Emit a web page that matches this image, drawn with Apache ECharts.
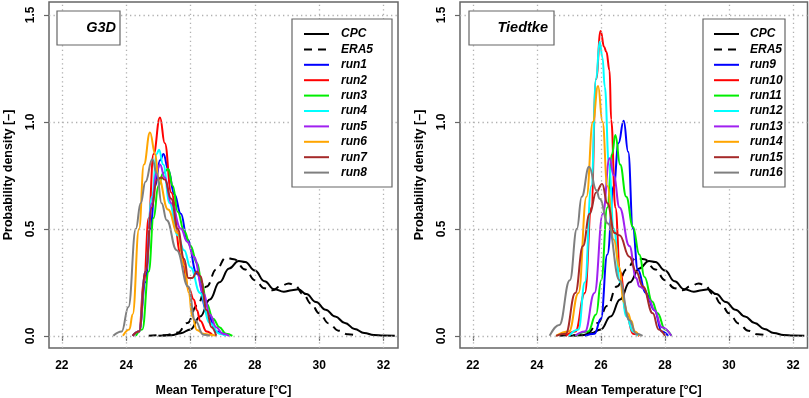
<!DOCTYPE html>
<html>
<head>
<meta charset="utf-8">
<script src="https://cdn.jsdelivr.net/npm/echarts@6/dist/echarts.min.js"></script>
<style>
  html, body { margin: 0; padding: 0; background: #fff; }
  #chart { width: 809px; height: 398px; }
</style>
</head>
<body>
<div id="chart"></div>
<script>
// tick values
const xTicks = [22, 24, 26, 28, 30, 32];
const yTicks = [0, 0.5, 1.0, 1.5];

// observations (same in both panels)
const cpc = [[25.0,0],[25.4,0.003],[25.7,0.012],[26.0,0.03],[26.3,0.09],[26.6,0.17],[26.9,0.25],[27.2,0.315],[27.5,0.35],[27.7,0.345],[28.0,0.305],[28.3,0.255],[28.6,0.218],[28.9,0.206],[29.15,0.213],[29.35,0.217],[29.6,0.195],[29.9,0.158],[30.2,0.122],[30.5,0.09],[30.8,0.06],[31.1,0.032],[31.4,0.013],[31.7,0.004],[32.0,0.001],[32.35,0]];
const era5 = [[24.7,0],[25.2,0.003],[25.6,0.015],[25.9,0.06],[26.2,0.14],[26.5,0.23],[26.8,0.31],[27.1,0.365],[27.35,0.358],[27.7,0.31],[28.0,0.26],[28.3,0.222],[28.55,0.213],[28.8,0.232],[29.05,0.245],[29.25,0.235],[29.5,0.195],[29.75,0.15],[30.0,0.105],[30.3,0.058],[30.6,0.024],[30.9,0.007],[31.2,0.001]];

// G3D runs
const run1 = [[24.2,0],[24.4,0.02],[24.6,0.25],[24.75,0.5],[24.9,0.7],[25.05,0.82],[25.16,0.85],[25.3,0.78],[25.5,0.66],[25.7,0.57],[25.9,0.45],[26.2,0.29],[26.5,0.12],[26.8,0.02],[27.1,0]];
const run2 = [[24.2,0],[24.4,0.02],[24.55,0.25],[24.7,0.55],[24.85,0.85],[25.05,1.02],[25.2,0.9],[25.4,0.67],[25.7,0.38],[25.95,0.22],[26.1,0.17],[26.2,0.12],[26.3,0.07],[26.5,0.02],[26.7,0]];
const run3 = [[24.3,0],[24.5,0.03],[24.7,0.3],[24.85,0.55],[25.0,0.7],[25.15,0.76],[25.3,0.78],[25.45,0.7],[25.6,0.58],[25.8,0.49],[26.0,0.42],[26.2,0.34],[26.35,0.25],[26.5,0.15],[26.7,0.08],[26.9,0.04],[27.1,0.01],[27.3,0]];
const run4 = [[24.2,0],[24.4,0.02],[24.6,0.3],[24.8,0.65],[24.95,0.85],[25.02,0.87],[25.15,0.8],[25.35,0.62],[25.6,0.47],[25.8,0.4],[26.0,0.32],[26.3,0.2],[26.6,0.06],[26.9,0.01],[27.1,0]];
const run5 = [[24.2,0],[24.4,0.02],[24.6,0.3],[24.8,0.62],[24.95,0.77],[25.05,0.8],[25.2,0.74],[25.4,0.62],[25.7,0.5],[25.9,0.44],[26.1,0.37],[26.4,0.2],[26.6,0.1],[26.8,0.04],[27.0,0.01],[27.2,0]];
const run6 = [[23.9,0],[24.1,0.03],[24.2,0.1],[24.4,0.5],[24.55,0.8],[24.74,0.95],[24.9,0.85],[25.0,0.74],[25.3,0.59],[25.6,0.48],[25.8,0.33],[25.95,0.2],[26.05,0.09],[26.2,0.027],[26.4,0.01],[26.6,0.005],[26.8,0]];
const run7 = [[24.2,0],[24.4,0.02],[24.6,0.3],[24.8,0.6],[24.95,0.73],[25.1,0.74],[25.2,0.73],[25.4,0.64],[25.6,0.5],[25.8,0.36],[25.93,0.27],[26.05,0.27],[26.2,0.3],[26.3,0.28],[26.5,0.12],[26.65,0.04],[26.8,0]];
const run8 = [[23.6,0],[23.86,0.02],[24.07,0.135],[24.3,0.5],[24.45,0.62],[24.6,0.72],[24.81,0.825],[24.95,0.76],[25.1,0.62],[25.26,0.54],[25.57,0.4],[25.93,0.23],[26.14,0.073],[26.4,0.005],[26.6,0]];

// Tiedtke runs
const run9 = [[25.5,0],[25.8,0.01],[26.0,0.08],[26.2,0.38],[26.4,0.7],[26.55,0.9],[26.71,1.005],[26.85,0.86],[27.0,0.5],[27.15,0.31],[27.4,0.2],[27.67,0.12],[27.9,0.02],[28.1,0]];
const run10 = [[24.9,0],[25.2,0.02],[25.5,0.2],[25.7,0.6],[25.85,1.2],[25.99,1.425],[26.1,1.35],[26.17,1.327],[26.27,1.24],[26.32,1.01],[26.45,0.6],[26.6,0.3],[26.8,0.1],[27.0,0.01],[27.2,0]];
const run11 = [[25.2,0],[25.6,0.02],[25.85,0.1],[26.01,0.26],[26.2,0.6],[26.35,0.85],[26.45,0.938],[26.6,0.8],[26.79,0.65],[27.0,0.51],[27.2,0.38],[27.36,0.275],[27.6,0.16],[27.77,0.105],[28.0,0.03],[28.2,0]];
const run12 = [[25.0,0],[25.3,0.03],[25.5,0.25],[25.7,0.7],[25.85,1.2],[25.96,1.374],[26.05,1.3],[26.12,1.164],[26.25,0.8],[26.4,0.5],[26.6,0.25],[26.8,0.09],[27.0,0.02],[27.15,0]];
const run13 = [[25.2,0],[25.5,0.02],[25.8,0.2],[26.06,0.57],[26.27,0.83],[26.4,0.75],[26.58,0.6],[26.89,0.42],[27.1,0.27],[27.2,0.23],[27.35,0.22],[27.5,0.17],[27.67,0.12],[27.9,0.04],[28.2,0]];
const run14 = [[24.6,0],[25.0,0.02],[25.3,0.2],[25.55,0.65],[25.75,1.0],[25.91,1.167],[26.05,1.0],[26.2,0.7],[26.4,0.45],[26.58,0.32],[26.7,0.16],[26.84,0.105],[26.95,0.07],[27.05,0.02],[27.2,0]];
const run15 = [[24.6,0],[24.9,0.01],[25.2,0.2],[25.44,0.42],[25.65,0.57],[25.85,0.67],[26.04,0.71],[26.2,0.62],[26.43,0.48],[26.58,0.47],[26.89,0.37],[27.1,0.3],[27.31,0.23],[27.62,0.105],[27.8,0.03],[28.0,0]];
const run16 = [[24.4,0],[24.7,0.05],[25.03,0.26],[25.25,0.5],[25.4,0.65],[25.63,0.79],[25.86,0.68],[25.96,0.64],[26.22,0.525],[26.58,0.26],[26.89,0.073],[27.1,0.01],[27.3,0]];

const runColors = ['#0000ff', '#ff0000', '#00ee00', '#00ffff', '#a020f0', '#ffa500', '#a52a2a', '#7f7f7f'];
const leftRuns = [run1, run2, run3, run4, run5, run6, run7, run8];
const rightRuns = [run9, run10, run11, run12, run13, run14, run15, run16];

const font = "'Liberation Sans', Arial, sans-serif";
const frame = '#666';

let chart = echarts.init(document.getElementById('chart'));

function curve(name, data, color, grid, dashed) {
    return {
        name: name,
        type: 'line',
        xAxisIndex: grid,
        yAxisIndex: grid,
        data: data,
        smooth: 0.45,
        smoothMonotone: 'x',
        symbol: 'none',
        z: 3,
        lineStyle: { color: color, width: 2, type: dashed ? [8, 6] : 'solid' },
        itemStyle: { color: color }
    };
}

// dotted grid lines drawn as markLines on an empty series
function gridLines(grid) {
    return {
        type: 'line',
        xAxisIndex: grid,
        yAxisIndex: grid,
        data: [],
        silent: true,
        z: 1,
        markLine: {
            symbol: 'none',
            silent: true,
            animation: false,
            label: { show: false },
            lineStyle: { color: '#b0b0b0', width: 1.3, type: [1.3, 3.2] },
            data: xTicks.map(v => ({ xAxis: v })).concat(yTicks.map(v => ({ yAxis: v })))
        }
    };
}

function xAxis(grid) {
    return {
        type: 'value', gridIndex: grid, min: 21.6, max: 32.45,
        name: 'Mean Temperature [°C]', nameLocation: 'middle', nameGap: 36,
        nameTextStyle: { fontFamily: font, fontWeight: 'bold', fontSize: 12.5, color: '#000' },
        axisLine: { show: false },
        axisTick: { show: true, length: 5, customValues: xTicks, lineStyle: { color: frame, width: 1.2 } },
        axisLabel: { customValues: xTicks, margin: 12, fontFamily: font, fontWeight: 'bold', fontSize: 12, color: '#000' },
        splitLine: { show: false }
    };
}

function yAxis(grid) {
    return {
        type: 'value', gridIndex: grid, min: -0.057, max: 1.56,
        name: 'Probability density [–]', nameLocation: 'middle', nameGap: 34, nameRotate: 90,
        nameTextStyle: { fontFamily: font, fontWeight: 'bold', fontSize: 12.5, color: '#000' },
        axisLine: { show: false },
        axisTick: { show: true, length: 5, customValues: yTicks, lineStyle: { color: frame, width: 1.2 } },
        axisLabel: { customValues: yTicks, rotate: 90, margin: 12, fontFamily: font, fontWeight: 'bold', fontSize: 12, color: '#000',
            formatter: v => v.toFixed(1) },
        splitLine: { show: false }
    };
}

// legend shows only the line (the symbol is made invisible)
function legend(left, names, textPad) {
    return {
        orient: 'vertical', left: left, top: 28, padding: 0, z: 60,
        itemWidth: 25, itemHeight: 12, itemGap: 3.4,
        data: names,
        selectedMode: false,
        itemStyle: { opacity: 0, borderWidth: 0 },
        textStyle: { fontFamily: font, fontStyle: 'italic', fontWeight: 'bold', fontSize: 12, color: '#000',
            lineHeight: 12, padding: [0, 0, 0, textPad] }
    };
}

function box(x, y, w, h) {
    return { type: 'rect', shape: { x: x, y: y, width: w, height: h },
        style: { fill: '#fff', stroke: frame, lineWidth: 1.2 }, z: 50 };
}

function label(x, y, text) {
    return { type: 'text', x: x, y: y, z: 51,
        style: { text: text, fill: '#000', font: 'italic bold 14.5px ' + font, textAlign: 'right', textVerticalAlign: 'middle' } };
}

const series = [gridLines(0), gridLines(1)];
[0, 1].forEach(g => {
    series.push(curve('CPC', cpc, '#000', g, false));
    series.push(curve('ERA5', era5, '#000', g, true));
    const runs = g === 0 ? leftRuns : rightRuns;
    runs.forEach((r, i) => series.push(curve('run' + (g * 8 + i + 1), r, runColors[i], g, false)));
});

const option = {
    animation: false,
    backgroundColor: '#fff',
    grid: [
        { left: 49, top: 2, width: 349, height: 346, show: true, borderColor: frame, borderWidth: 1.5,
          backgroundColor: 'transparent', containLabel: false, outerBoundsMode: 'none' },
        { left: 460, top: 2, width: 347.5, height: 346, show: true, borderColor: frame, borderWidth: 1.5,
          backgroundColor: 'transparent', containLabel: false, outerBoundsMode: 'none' }
    ],
    xAxis: [xAxis(0), xAxis(1)],
    yAxis: [yAxis(0), yAxis(1)],
    legend: [
        legend(303, ['CPC', 'ERA5', 'run1', 'run2', 'run3', 'run4', 'run5', 'run6', 'run7', 'run8'], 7),
        legend(713, ['CPC', 'ERA5', 'run9', 'run10', 'run11', 'run12', 'run13', 'run14', 'run15', 'run16'], 6)
    ],
    graphic: [
        box(57, 11, 63, 34), label(116, 28, 'G3D'),
        box(469, 11, 85, 34), label(548, 28, 'Tiedtke'),
        box(292, 19, 100, 168),
        box(703, 19, 82, 168)
    ],
    series: series
};

chart.setOption(option);
</script>
</body>
</html>
